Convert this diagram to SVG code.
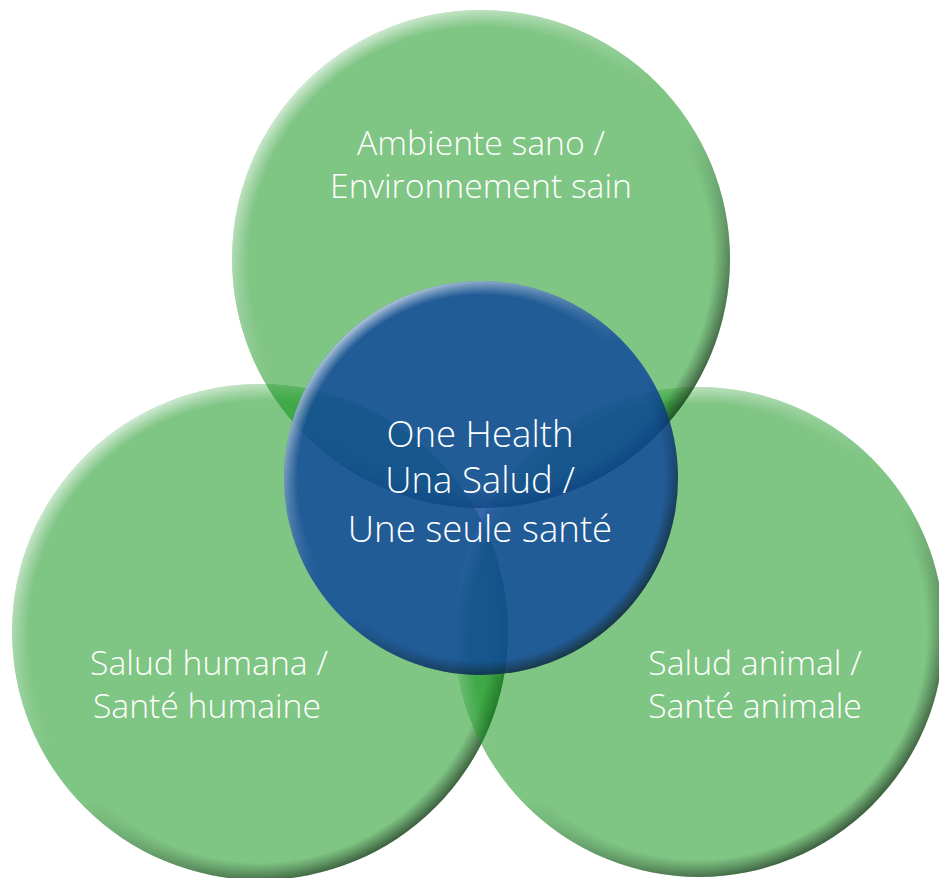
<svg xmlns="http://www.w3.org/2000/svg" width="939" height="878" viewBox="0 0 939 878">
<style>
.green{fill:rgb(0,140,10);fill-opacity:0.5}
.blue{fill:rgb(14,68,155);fill-opacity:0.82}
.rim{fill:url(#rimG);mask:url(#rimMask)}
.lbl{font-family:"Open Sans","Noto Sans","Liberation Sans",sans-serif;font-weight:300;fill:#ffffff;text-anchor:middle}
.outer{font-size:33.7px}
.center{font-size:36.6px}
</style>
<defs>
<linearGradient id="rimG" x1="0.15" y1="0.05" x2="0.85" y2="0.95">
<stop offset="0" stop-color="#ffffff" stop-opacity="0.75"/>
<stop offset="0.45" stop-color="#ffffff" stop-opacity="0"/>
<stop offset="0.55" stop-color="#000000" stop-opacity="0"/>
<stop offset="1" stop-color="#1a2a1a" stop-opacity="0.75"/>
</linearGradient>
<radialGradient id="rimMaskG" cx="0.5" cy="0.5" r="0.5">
<stop offset="0.93" stop-color="#000000"/>
<stop offset="1" stop-color="#ffffff"/>
</radialGradient>
<mask id="rimMask" maskContentUnits="objectBoundingBox">
<rect x="0" y="0" width="1" height="1" fill="url(#rimMaskG)"/>
</mask>
</defs>
<rect width="939" height="878" fill="#ffffff"/>
<g id="human">
<circle class="green" cx="260" cy="632" r="248"/>
<circle class="rim" cx="260" cy="632" r="248"/>
</g>
<g id="animal">
<circle class="green" cx="699" cy="632" r="245"/>
<circle class="rim" cx="699" cy="632" r="245"/>
</g>
<g id="environment">
<circle class="green" cx="481" cy="259" r="249"/>
<circle class="rim" cx="481" cy="259" r="249"/>
</g>
<g id="onehealth">
<circle class="blue" cx="481" cy="478" r="197"/>
<circle class="rim" cx="481" cy="478" r="197"/>
</g>
<g id="connectors"></g>
<g id="labels">
<text class="lbl outer" x="481" y="155">Ambiente sano /</text>
<text class="lbl outer" x="481" y="198">Environnement sain</text>
<text class="lbl center" x="480" y="447">One Health</text>
<text class="lbl center" x="480" y="493">Una Salud /</text>
<text class="lbl center" x="480" y="542">Une seule santé</text>
<text class="lbl outer" x="209" y="675">Salud humana /</text>
<text class="lbl outer" x="755" y="675">Salud animal /</text>
<text class="lbl outer" x="207" y="718">Santé humaine</text>
<text class="lbl outer" x="755" y="718">Santé animale</text>
</g>
</svg>
